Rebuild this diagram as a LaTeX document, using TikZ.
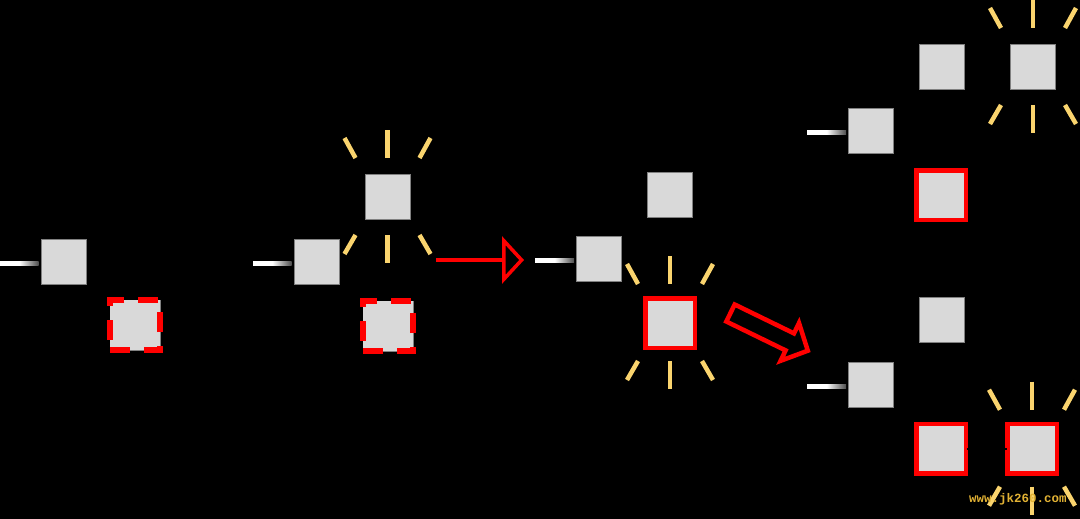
\documentclass[tikz,border=0pt]{standalone}
\usepackage{fontspec}
\usepackage{tikz}
\usetikzlibrary{arrows.meta, positioning}
\newfontfamily\wmfont{Liberation Mono}
\definecolor{keygray}{HTML}{D9D9D9}
\definecolor{raygold}{RGB}{250,212,110}
\definecolor{wmgold}{RGB}{226,178,52}

\tikzset{
  key/.style={draw=gray, line width=0.8pt, fill=keygray, minimum size=45pt, inner sep=0pt},
  hit/.style={key, draw=red, line width=4.5pt, minimum size=49.5pt},
  miss/.style={key, draw=red, line width=5.5pt, dash pattern=on 20pt off 14pt, minimum size=50pt,
    preaction={draw=gray, line width=0.8pt, solid}},
  ray/.style={raygold, line width=4.5pt},
  feed/.style={left color=white, right color=black!70, middle color=white},
  redarrow/.style={red, line width=3.5pt, -{Triangle[open, length=22pt, width=47pt]}}
}

% rays around a lit key
\newcommand{\glow}[1]{
  \begin{scope}[shift={(#1)}]
    \foreach \ax/\ay/\bx/\by in {-43/-59/-32/-39, 0/-67/0/-39, 43/-59/32/-39,
                                 -32/38/-43/57, 0/38/0/66, 32/38/43/57}
      \draw[ray] (\ax,\ay) -- (\bx,\by);
  \end{scope}
}

\begin{document}
\begin{tikzpicture}[x=1pt, y=-1pt]
  \useasboundingbox (0,0) rectangle (1080,519);
  \fill[black] (0,0) rectangle (1080,519);

  % Stage 1
  \node[key] (a1) at (63.5,261.5) {};
  \node[miss] (d1) at (135,325) {};
  \coordinate (f1) at (0,263);
  \shade[feed] (f1) ++(0,-2) rectangle ([xshift=-2pt, yshift=-2pt]a1.west |- f1);

  % Stage 2
  \node[key] (a2) at (316.5,261.5) {};
  \node[key] (g2) at (387.5,197) {};
  \node[miss] (d2) at (388,326) {};
  \coordinate (f2) at (253,263);
  \shade[feed] (f2) ++(0,-2) rectangle ([xshift=-2pt, yshift=-2pt]a2.west |- f2);
  \glow{g2}

  % Arrow to stage 3
  \coordinate (s1) at (436,260);
  \coordinate (e1) at (524,260);
  \draw[redarrow] (s1) -- (e1);

  % Stage 3
  \node[key] (a3) at (599,259) {};
  \node[key] (b3) at (670,195) {};
  \node[hit] (r3) at (670,323) {};
  \coordinate (f3) at (535,260);
  \shade[feed] (f3) ++(0,-2) rectangle ([xshift=-2pt, yshift=-2pt]a3.west |- f3);
  \glow{r3}

  % Hollow arrow to stage 4
  \draw[red, line width=4.5pt, line join=miter]
    (734.7,304.5) -- (794,333.4) -- (799,323) -- (807.8,350.7)
    -- (780.6,360.8) -- (785.6,350.4) -- (726.3,321.5) -- cycle;

  % Stage 4, upper case
  \node[key] (a4) at (871,131) {};
  \node[key] (b4) at (941.5,67) {};
  \node[key] (g4) at (1033,67) {};
  \node[hit] (r4) at (941.3,195.3) {};
  \coordinate (f4) at (807,132);
  \shade[feed] (f4) ++(0,-2) rectangle ([xshift=-2pt, yshift=-2pt]a4.west |- f4);
  \glow{g4}

  % Stage 4, lower case
  \node[key] (a5) at (871,385) {};
  \node[key] (b5) at (941.5,320) {};
  \node[hit] (r5) at (941.3,448.7) {};
  \node[hit] (r6) at (1032,448.7) {};
  \coordinate (f5) at (807,386.5);
  \shade[feed] (f5) ++(0,-2) rectangle ([xshift=-2pt, yshift=-2pt]a5.west |- f5);
  \draw[black, line width=2pt] ([xshift=-1.5pt]r5.east) -- ([xshift=1.5pt]r6.west);
  \glow{r6}

  % watermark
  \node[font=\wmfont\bfseries\fontsize{12.5}{14}\selectfont, text=wmgold, inner sep=0pt]
    (wm) at (1018,499) {www.jk260.com};
\end{tikzpicture}
\end{document}
